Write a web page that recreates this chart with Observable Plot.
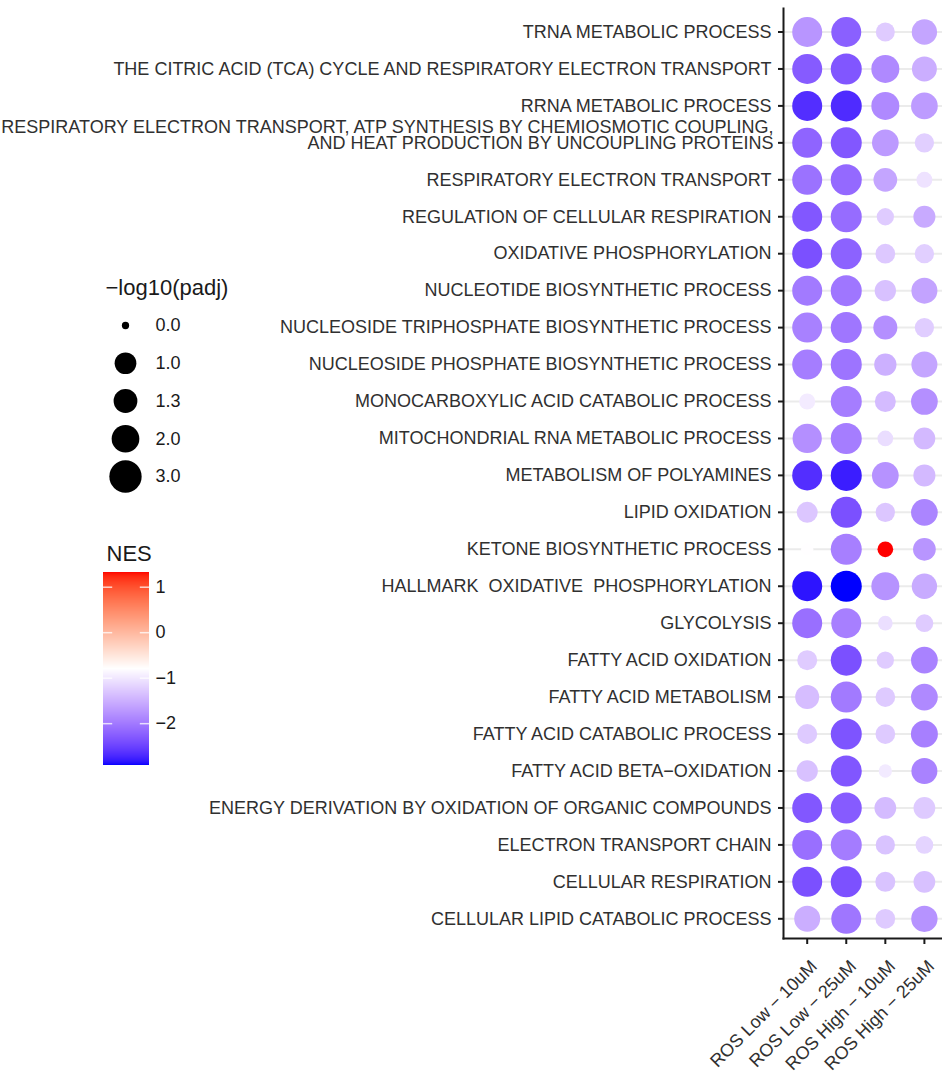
<!DOCTYPE html>
<html>
<head>
<meta charset="utf-8">
<script src="https://cdn.jsdelivr.net/npm/d3@7"></script>
<script src="https://cdn.jsdelivr.net/npm/@observablehq/plot@0.6"></script>
<style>
  body { margin: 0; background: #fff; }
  #chart { position: relative; width: 942px; height: 1072px; font-family: "Liberation Sans", Arial, sans-serif; }
  #chart > svg, #chart > div { position: absolute; }
  #chart text { white-space: pre; }
</style>
</head>
<body>
<div id="chart"></div>
<script>
// Gene sets, top to bottom
const pathways = [
  "TRNA METABOLIC PROCESS",
  "THE CITRIC ACID (TCA) CYCLE AND RESPIRATORY ELECTRON TRANSPORT",
  "RRNA METABOLIC PROCESS",
  "RESPIRATORY ELECTRON TRANSPORT, ATP SYNTHESIS BY CHEMIOSMOTIC COUPLING,\nAND HEAT PRODUCTION BY UNCOUPLING PROTEINS",
  "RESPIRATORY ELECTRON TRANSPORT",
  "REGULATION OF CELLULAR RESPIRATION",
  "OXIDATIVE PHOSPHORYLATION",
  "NUCLEOTIDE BIOSYNTHETIC PROCESS",
  "NUCLEOSIDE TRIPHOSPHATE BIOSYNTHETIC PROCESS",
  "NUCLEOSIDE PHOSPHATE BIOSYNTHETIC PROCESS",
  "MONOCARBOXYLIC ACID CATABOLIC PROCESS",
  "MITOCHONDRIAL RNA METABOLIC PROCESS",
  "METABOLISM OF POLYAMINES",
  "LIPID OXIDATION",
  "KETONE BIOSYNTHETIC PROCESS",
  "HALLMARK  OXIDATIVE  PHOSPHORYLATION",
  "GLYCOLYSIS",
  "FATTY ACID OXIDATION",
  "FATTY ACID METABOLISM",
  "FATTY ACID CATABOLIC PROCESS",
  "FATTY ACID BETA−OXIDATION",
  "ENERGY DERIVATION BY OXIDATION OF ORGANIC COMPOUNDS",
  "ELECTRON TRANSPORT CHAIN",
  "CELLULAR RESPIRATION",
  "CELLULAR LIPID CATABOLIC PROCESS"
];

// Treatment groups
const conditions = ["ROS Low − 10uM", "ROS Low − 25uM", "ROS High − 10uM", "ROS High − 25uM"];

// Normalized enrichment score, one row per gene set, one column per condition
const nes = [
  [-1.75, -2.24, -1.26, -1.60],
  [-2.28, -2.33, -1.86, -1.52],
  [-2.67, -2.69, -1.86, -1.69],
  [-2.20, -2.32, -1.70, -1.22],
  [-2.07, -2.15, -1.60, -1.05],
  [-2.32, -2.13, -1.26, -1.56],
  [-2.38, -2.22, -1.28, -1.22],
  [-2.00, -2.03, -1.35, -1.62],
  [-1.93, -2.03, -1.80, -1.24],
  [-1.97, -2.05, -1.50, -1.60],
  [-0.97, -1.97, -1.40, -1.80],
  [-1.80, -1.97, -1.10, -1.42],
  [-2.67, -2.79, -1.78, -1.42],
  [-1.30, -2.38, -1.30, -1.90],
  [-0.80, -1.95,  1.33, -1.75],
  [-2.84, -2.92, -1.77, -1.55],
  [-2.10, -1.95, -1.08, -1.26],
  [-1.26, -2.38, -1.26, -1.92],
  [-1.38, -2.00, -1.27, -1.86],
  [-1.27, -2.35, -1.27, -1.95],
  [-1.35, -2.33, -0.98, -1.92],
  [-2.32, -2.28, -1.40, -1.27],
  [-2.10, -1.98, -1.33, -1.18],
  [-2.38, -2.37, -1.33, -1.35],
  [-1.52, -2.03, -1.27, -1.77]
];

// -log10 adjusted p-value, same layout
const mlogPadj = [
  [2.47, 2.47, 0.66, 1.56],
  [2.47, 2.70, 2.06, 1.50],
  [2.47, 2.70, 2.06, 1.81],
  [2.47, 2.70, 1.81, 0.69],
  [2.47, 2.70, 1.29, 0.36],
  [2.47, 2.70, 0.48, 1.04],
  [2.47, 2.70, 0.74, 0.69],
  [2.47, 2.70, 0.94, 1.68],
  [2.47, 2.70, 1.34, 0.69],
  [2.47, 2.70, 1.08, 1.68],
  [0.36, 2.70, 0.90, 1.81],
  [2.32, 2.70, 0.34, 1.00],
  [2.47, 2.70, 1.81, 1.04],
  [0.90, 2.70, 0.69, 1.81],
  [0.12, 2.70, 0.34, 1.14],
  [2.47, 2.70, 2.06, 1.56],
  [2.47, 2.47, 0.26, 0.52],
  [0.77, 2.70, 0.48, 1.81],
  [1.34, 2.70, 0.74, 1.81],
  [0.77, 2.70, 0.74, 1.86],
  [0.94, 2.70, 0.17, 1.68],
  [2.47, 2.70, 1.00, 1.00],
  [2.47, 2.70, 0.69, 0.52],
  [2.47, 2.70, 0.77, 1.00],
  [1.68, 2.47, 0.74, 1.74]
];

// Legend breaks
const sizeBreaks = [0, 1, 1.3, 2, 3];
const nesTicks = [-2, -1, 0, 1];
const sizeTitle = "−log10(padj)";
const colorTitle = "NES";

// Long-format table for the dot marks
const rows = pathways.flatMap((p, i) => conditions.map((c, j) => ({
  pathway: p, condition: c, NES: nes[i][j], mlog: mlogPadj[i][j]
})));

const [lo, hi] = d3.extent(rows, d => d.NES);
const colorScale = {type: "linear", domain: [lo, (lo + hi) / 2, hi], range: ["#0000ff", "#ffffff", "#ff0000"], interpolate: "lab"};
const rScale = {type: "sqrt", domain: [0, 3], range: [3.65, 16.15]};

const font = "'Liberation Sans', Arial, sans-serif";
const axisInk = "#1a1a1a";
const textInk = "#303030";

const multi = pathways.filter(p => p.includes("\n"));
const single = pathways.filter(p => !p.includes("\n"));

const main = Plot.plot({
  width: 942,
  height: 1072,
  marginLeft: 783,
  marginRight: 0,
  marginTop: 8,
  marginBottom: 134,
  style: {fontFamily: font, fontSize: "18px", color: textInk, background: "transparent", overflow: "visible"},
  x: {type: "point", domain: conditions, range: [806.7, 923.9], padding: 0, round: false},
  y: {type: "point", domain: pathways, range: [31.5, 918.3], padding: 0, round: false},
  r: rScale,
  color: colorScale,
  marks: [
    Plot.ruleY(pathways, {y: d => d, stroke: "#ebebeb", strokeWidth: 2}),
    Plot.dot(rows, {x: "condition", y: "pathway", r: "mlog", fill: "NES"}),
    Plot.axisY({tickSize: 5, tickFormat: () => "", label: null, stroke: axisInk, strokeWidth: 2}),
    Plot.axisX({tickSize: 6, tickFormat: () => "", label: null, stroke: axisInk, strokeWidth: 2}),
    Plot.frame({anchor: "left", stroke: axisInk, strokeWidth: 2}),
    Plot.frame({anchor: "bottom", stroke: axisInk, strokeWidth: 2}),
    Plot.text(single, {y: d => d, text: d => d, frameAnchor: "left", dx: -12, textAnchor: "end", fill: textInk}),
    Plot.text(multi, {y: d => d, text: d => d, frameAnchor: "left", dx: -10, dy: -7, lineHeight: 0.86, textAnchor: "end", fill: textInk}),
    Plot.text(conditions, {x: d => d, text: d => d, frameAnchor: "bottom", rotate: -45, textAnchor: "end", dx: 11, dy: 29, fill: textInk})
  ]
});
main.style.left = "0px";
main.style.top = "0px";

// Size legend
const sizeLegend = Plot.plot({
  width: 200,
  height: 230,
  margin: 0,
  style: {fontFamily: font, fontSize: "18px", color: "#1a1a1a", background: "transparent", overflow: "visible"},
  y: {type: "point", domain: sizeBreaks, range: [55, 206], padding: 0, round: false, axis: null},
  r: rScale,
  marks: [
    Plot.text([sizeTitle], {frameAnchor: "top-left", dx: 15, dy: 17, lineAnchor: "middle", fontSize: 22, textAnchor: "start", fill: "#1a1a1a"}),
    Plot.dot(sizeBreaks, {y: d => d, r: d => d, fill: "#000", frameAnchor: "left", dx: 35}),
    Plot.text(sizeBreaks, {y: d => d, text: d => d3.format(".1f")(d), frameAnchor: "left", dx: 65, textAnchor: "start", fill: "#1a1a1a"})
  ]
});
sizeLegend.style.left = "90px";
sizeLegend.style.top = "270px";

// Colour bar legend
const nSteps = 193;
const dv = (hi - lo) / nSteps;
const ramp = d3.range(nSteps).map(i => lo + i * dv);
const colorLegend = Plot.plot({
  width: 130,
  height: 240,
  marginLeft: 13,
  marginRight: 71,
  marginTop: 41.7,
  marginBottom: 5,
  style: {fontFamily: font, fontSize: "18px", color: "#1a1a1a", background: "transparent", overflow: "visible"},
  x: {domain: [0, 1], axis: null},
  y: {domain: [lo, hi], axis: null},
  color: colorScale,
  marks: [
    Plot.rect(ramp, {x1: 0, x2: 1, y1: d => d, y2: d => Math.min(hi, d + dv * 1.5), fill: d => d + dv / 2, shapeRendering: "crispEdges"}),
    Plot.ruleY(nesTicks, {y: d => d, x1: 0, x2: 0.2, stroke: "#ffffff", strokeOpacity: 0.75, strokeWidth: 1.5}),
    Plot.ruleY(nesTicks, {y: d => d, x1: 0.8, x2: 1, stroke: "#ffffff", strokeOpacity: 0.75, strokeWidth: 1.5}),
    Plot.text(nesTicks, {y: d => d, text: d => d3.format("d")(d), frameAnchor: "right", dx: 6, textAnchor: "start", fill: "#1a1a1a"}),
    Plot.text([colorTitle], {frameAnchor: "top-left", dx: 3, dy: -18.7, lineAnchor: "middle", fontSize: 22, textAnchor: "start", fill: "#1a1a1a"})
  ]
});
colorLegend.style.left = "90px";
colorLegend.style.top = "530px";

const root = document.getElementById("chart");
root.append(main, sizeLegend, colorLegend);
</script>
</body>
</html>
